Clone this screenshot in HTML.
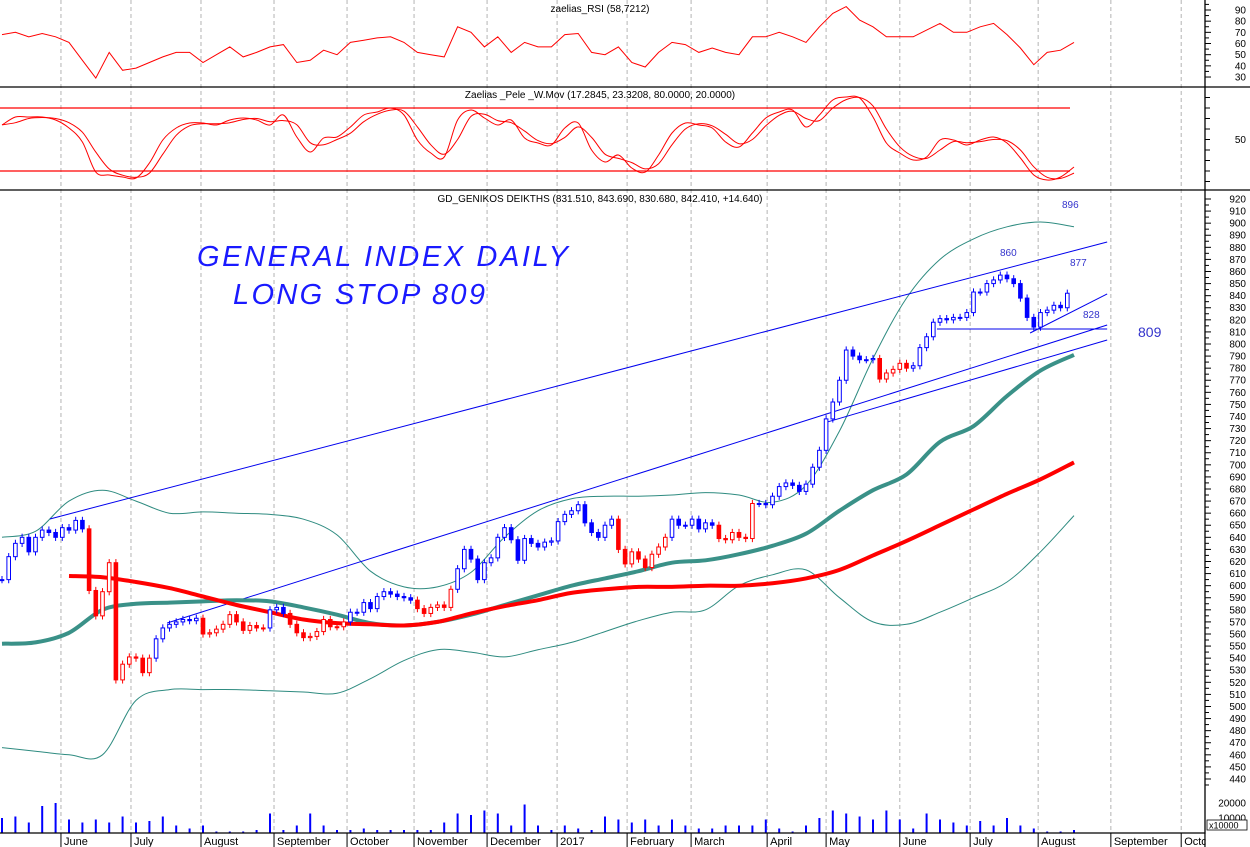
<!DOCTYPE html>
<html><head><meta charset="utf-8"><title>General Index Daily</title>
<style>
html,body{margin:0;padding:0;background:#fff;}
svg{display:block;font-family:"Liberation Sans",Arial,sans-serif;}
</style></head>
<body>
<svg id="chart" width="1250" height="847" viewBox="0 0 1250 847" xmlns="http://www.w3.org/2000/svg">
<rect x="0" y="0" width="1250" height="847" fill="#fff"/>
<g id="grid"></g>
<g id="rsiG"></g>
<g id="stoG"></g>
<g id="mainG"></g>
<g id="volG"></g>
<g id="axG"></g>
<text x="600" y="12" font-size="10" text-anchor="middle" fill="#000">zaelias_RSI (58,7212)</text>
<text x="600" y="98" font-size="10" text-anchor="middle" fill="#000">Zaelias _Pele _W.Mov (17.2845, 23.3208, 80.0000, 20.0000)</text>
<text x="600" y="202" font-size="10" text-anchor="middle" fill="#000">GD_GENIKOS DEIKTHS (831.510, 843.690, 830.680, 842.410, +14.640)</text>
<text x="197" y="266" font-size="29" font-style="italic" fill="#1a1aff" letter-spacing="1" textLength="372">GENERAL INDEX DAILY</text>
<text x="233" y="304" font-size="29" font-style="italic" fill="#1a1aff" textLength="252">LONG STOP 809</text>
<text x="1062" y="208" font-size="10" fill="#3333cc">896</text>
<text x="1000" y="256" font-size="10" fill="#3333cc">860</text>
<text x="1070" y="266" font-size="10" fill="#3333cc">877</text>
<text x="1083" y="318" font-size="10" fill="#3333cc">828</text>
<text x="1138" y="337" font-size="14" fill="#3333cc">809</text>
</svg>
<script>
// ---- data ----
const closes = [605,624,635,640,628,640,646,644,640,648,646,654,647,596,575,595,619,522,535,541,540,528,540,556,565,568,570,572,571,573,560,561,564,568,576,570,563,567,565,565,580,582,577,568,561,557,558,562,572,566,566,570,578,578,586,581,591,595,593,591,590,588,581,577,582,584,582,597,614,630,622,605,619,623,640,648,638,621,639,635,632,636,637,653,659,662,667,652,644,640,650,655,630,618,628,622,615,626,632,640,655,650,650,655,647,652,650,639,638,644,640,639,668,668,667,674,682,685,683,678,684,698,712,738,752,770,795,790,787,787,788,771,776,779,784,780,782,797,806,818,821,820,822,822,826,843,843,850,853,857,854,850,838,822,814,826,828,832,830,842];
const redSegments = [[13,22],[30,39],[43,51],[62,67],[92,99],[107,112],[131,135]];
const maTeal = [552,553,561,580,585,586,587,588,587,582,576,569,567,570,576,584,592,600,606,612,619,621,626,633,643,662,679,692,719,732,757,778,791];
const maRed = [null,null,608,607,603,598,591,584,578,572,569,568,567,570,577,583,588,594,597,599,599,600,600,602,606,613,625,637,650,663,676,688,702];
const bandUpper = [640,645,670,679,670,660,661,660,659,655,642,612,599,599,611,640,662,672,674,674,675,677,675,669,683,728,788,838,870,887,897,901,897];
const bandLower = [466,463,460,460,505,514,514,514,513,512,511,523,538,547,545,541,547,553,562,571,578,580,600,609,613,590,570,568,578,590,603,628,658];
const rsi = [68,70,66,69,66,61,45,29,52,36,38,43,48,52,52,43,50,57,48,52,57,59,43,45,54,50,61,63,65,66,61,52,50,48,75,70,57,66,52,61,57,57,68,69,52,50,57,43,39,52,61,59,52,56,52,50,66,66,70,66,61,75,87,93,81,75,66,66,66,72,78,70,70,75,78,68,56,41,52,54,61];
const wmovFast = [63.8,71.4,71.4,71.4,68.6,61,47.6,19,16.2,14.3,13.3,27.6,49.5,61,65.7,65.7,63.8,68.6,70.5,68.6,63.8,73.3,52.4,38.1,51.4,52.4,61.9,73.3,76.2,80,73.3,49.5,37.1,33.3,68.6,78.1,70.5,63.8,68.6,51.4,46.7,44.8,61,65.7,40,28.6,35.2,22.9,19,35.2,56.2,65.7,63.8,61,47.6,42.9,56.2,70.5,76.2,78.1,61.9,73.3,87.6,90.5,89.5,71.4,46.7,37.1,30.5,33.3,49.5,49.5,44.8,49.5,52.4,46.7,32.4,16.2,11.4,14.3,23.8];
const wmovSlow = [64,66,70,71,70,66,57,38,22,16,14,18,36,54,63,65,65,66,69,70,67,68,64,47,45,50,56,67,74,78,77,62,45,36,50,72,74,68,66,58,49,46,52,62,52,36,32,28,22,27,45,60,65,63,55,46,50,63,73,77,70,68,80,88,90,82,60,43,34,32,40,48,47,48,50,49,40,24,14,13,18];
const volumeK = [10,11,7,18,20,9,7,9,7,11,7,8,11,5,3,5,1,1,1,2,13,2,5,13,5,2,2,3,2,2,2,2,2,7,13,12,15,13,5,19,5,2,5,3,2,11,9,7,9,5,9,5,3,3,5,5,5,9,3,1,5,10,15,13,11,9,15,9,3,13,9,7,5,8,5,10,5,3,1,1,2];
const trendlines = [[14.3,655.2,329.9,884.4],[49.3,569.1,329.9,815.7],[246.3,735.4,329.9,803.3],[279.1,812.4,329.9,812.4],[306.9,809.1,329.9,841.4]];
const monthLabels = ["May","June","July","August","September","October","November","December","2017","February","March","April","May","June","July","August","September","October"];
const monthDays = [-16.5,17.6,38.5,59.4,81.2,103,123,144.8,165.7,186.6,205.7,228.4,246,268,289,309.3,331,352];
const priceTicks = [920,910,900,890,880,870,860,850,840,830,820,810,800,790,780,770,760,750,740,730,720,710,700,690,680,670,660,650,640,630,620,610,600,590,580,570,560,550,540,530,520,510,500,490,480,470,460,450,440];
const rsiTicks = [90,80,70,60,50,40,30];
const volTicks = [20000,10000];

// ---- scales ----
const NS="http://www.w3.org/2000/svg";
const AXX=1205;
function xd(d){return 2+d*3.35;}
function yp(v){return 199+(920-v)*1.2083;}
function yr(v){return 10+(90-v)*1.117;}
function ys(v){return 108+(80-v)*1.05;}
function yv(k){return 833-k*1.5;}
function mk(parent,tag,attrs){const e=document.createElementNS(NS,tag);for(const k in attrs)e.setAttribute(k,attrs[k]);parent.appendChild(e);return e;}
function smooth(pts){
  let d="M"+pts[0][0].toFixed(1)+","+pts[0][1].toFixed(1);
  for(let i=0;i<pts.length-1;i++){
    const p0=pts[Math.max(0,i-1)],p1=pts[i],p2=pts[i+1],p3=pts[Math.min(pts.length-1,i+2)];
    const c1x=p1[0]+(p2[0]-p0[0])/6,c1y=p1[1]+(p2[1]-p0[1])/6,c2x=p2[0]-(p3[0]-p1[0])/6,c2y=p2[1]-(p3[1]-p1[1])/6;
    d+=" C"+c1x.toFixed(1)+","+c1y.toFixed(1)+" "+c2x.toFixed(1)+","+c2y.toFixed(1)+" "+p2[0].toFixed(1)+","+p2[1].toFixed(1);
  }
  return d;
}
function line(pts){return "M"+pts.map(p=>p[0].toFixed(1)+","+p[1].toFixed(1)).join(" L");}
const grid=document.getElementById('grid'),rsiG=document.getElementById('rsiG'),stoG=document.getElementById('stoG'),mainG=document.getElementById('mainG'),volG=document.getElementById('volG'),axG=document.getElementById('axG');

monthDays.forEach((d,i)=>{
  if(i===0)return;
  const x=xd(d);
  if(x>AXX)return;
  const g=mk(grid,'line',{x1:x,y1:0,x2:x,y2:833,stroke:'#b4b4b4','stroke-dasharray':'4,3','stroke-width':1});
  
  
});

const rsiPath=mk(rsiG,'path',{d:line(rsi.map((v,i)=>[xd(i*4),yr(v)])),fill:'none',stroke:'#ff0000','stroke-width':1});



[80,20].forEach(v=>{
  const l=mk(stoG,'line',{x1:0,x2:1070,y1:ys(v),y2:ys(v),stroke:'#ff0000','stroke-width':1.3});
  
  
});
const fp=mk(stoG,'path',{d:smooth(wmovFast.map((v,i)=>[xd(i*4),ys(v)])),fill:'none',stroke:'#ff0000','stroke-width':1});


const sp=mk(stoG,'path',{d:smooth(wmovSlow.map((v,i)=>[xd(i*4),ys(v)])),fill:'none',stroke:'#ff0000','stroke-width':1});



const bu=mk(mainG,'path',{d:smooth(bandUpper.map((v,i)=>[xd(i*10),yp(v)])),fill:'none',stroke:'#2e8b80','stroke-width':1});


const bl=mk(mainG,'path',{d:smooth(bandLower.map((v,i)=>[xd(i*10),yp(v)])),fill:'none',stroke:'#2e8b80','stroke-width':1});



trendlines.forEach(t=>{
  const l=mk(mainG,'line',{x1:xd(t[0]),y1:yp(t[1]),x2:xd(t[2]),y2:yp(t[3]),stroke:'#0000ee','stroke-width':1});
  
  
});

const tm=mk(mainG,'path',{d:smooth(maTeal.map((v,i)=>[xd(i*10),yp(v)])),fill:'none',stroke:'#3a9188','stroke-width':4});


const rp=[];maRed.forEach((v,i)=>{if(v!==null)rp.push([xd(i*10),yp(v)]);});
const rm=mk(mainG,'path',{d:smooth(rp),fill:'none',stroke:'#ff0000','stroke-width':4});



function isRed(i){return redSegments.some(s=>i>=s[0]&&i<=s[1]);}
closes.forEach((c,i)=>{
  const o=i>0?closes[i-1]:c;
  const hi=Math.max(o,c)+3,lo=Math.min(o,c)-3;
  const x=xd(i*2);
  const col=isRed(i)?'#ff0000':'#0000ff';
  const g=mk(mainG,'g',{});
  
  
  mk(g,'line',{x1:x,x2:x,y1:yp(hi),y2:yp(lo),stroke:col,'stroke-width':1});
  const top=yp(Math.max(o,c)),bot=yp(Math.min(o,c));
  mk(g,'rect',{x:x-1.8,y:top,width:3.6,height:Math.max(1,bot-top),fill:c>=o?'#fff':col,stroke:col,'stroke-width':1});
});

volumeK.forEach((k,i)=>{
  const x=xd(i*4);
  const r=mk(volG,'rect',{x:x-1,y:yv(k),width:2,height:833-yv(k),fill:'#0000ff'});
  
  
});

[87,190].forEach(y=>{
  const l=mk(axG,'line',{x1:0,x2:1250,y1:y,y2:y,stroke:'#000','stroke-width':1.3});
  
  
});
const va=mk(axG,'line',{x1:AXX,x2:AXX,y1:0,y2:847,stroke:'#000','stroke-width':1.3});


const ha=mk(axG,'line',{x1:0,x2:AXX,y1:833,y2:833,stroke:'#000','stroke-width':1.3});


priceTicks.forEach(v=>{
  const y=yp(v);
  mk(axG,'line',{x1:AXX,x2:AXX+6,y1:y,y2:y,stroke:'#000'});
  mk(axG,'line',{x1:AXX,x2:AXX+4,y1:y+6,y2:y+6,stroke:'#000'});
  const t=mk(axG,'text',{x:1246,y:y+3.5,'font-size':10,'text-anchor':'end',fill:'#000'});
  t.textContent=v;
  
  
});
rsiTicks.forEach(v=>{
  const y=yr(v);
  mk(axG,'line',{x1:AXX,x2:AXX+6,y1:y,y2:y,stroke:'#000'});
  mk(axG,'line',{x1:AXX,x2:AXX+4,y1:y-5.6,y2:y-5.6,stroke:'#000'});
  const t=mk(axG,'text',{x:1246,y:y+3.5,'font-size':10,'text-anchor':'end',fill:'#000'});
  t.textContent=v;
  
  
});
[100,90,80,70,60,50,40,30,20,10].forEach(v=>{
  const y=ys(v);
  if(y<89||y>189)return;
  mk(axG,'line',{x1:AXX,x2:AXX+5,y1:y,y2:y,stroke:'#000'});
});
const s50=mk(axG,'text',{x:1246,y:ys(50)+3.5,'font-size':10,'text-anchor':'end',fill:'#000'});
s50.textContent='50';


volTicks.forEach(v=>{
  const y=yv(v/1000);
  const t=mk(axG,'text',{x:1246,y:y+3.5,'font-size':10,'text-anchor':'end',fill:'#000'});
  t.textContent=v;
  
  
});
const vb=mk(axG,'rect',{x:1207,y:820,width:40,height:10,fill:'#fff',stroke:'#000','stroke-width':0.8});


const vbt=mk(axG,'text',{x:1209,y:828.5,'font-size':9,fill:'#000'});
vbt.textContent='x10000';


monthLabels.forEach((m,i)=>{
  const x=xd(monthDays[i]);
  if(x+3>AXX)return;
  if(i>0)mk(axG,'line',{x1:x,x2:x,y1:833,y2:847,stroke:'#000'});
  const t=mk(axG,'text',{x:x+3,y:845,'font-size':11,fill:'#000'});
  t.textContent=m;
  
  
});
const cover=mk(axG,'rect',{x:AXX+0.7,y:834,width:44,height:13,fill:'#fff'});


</script>
</body></html>
